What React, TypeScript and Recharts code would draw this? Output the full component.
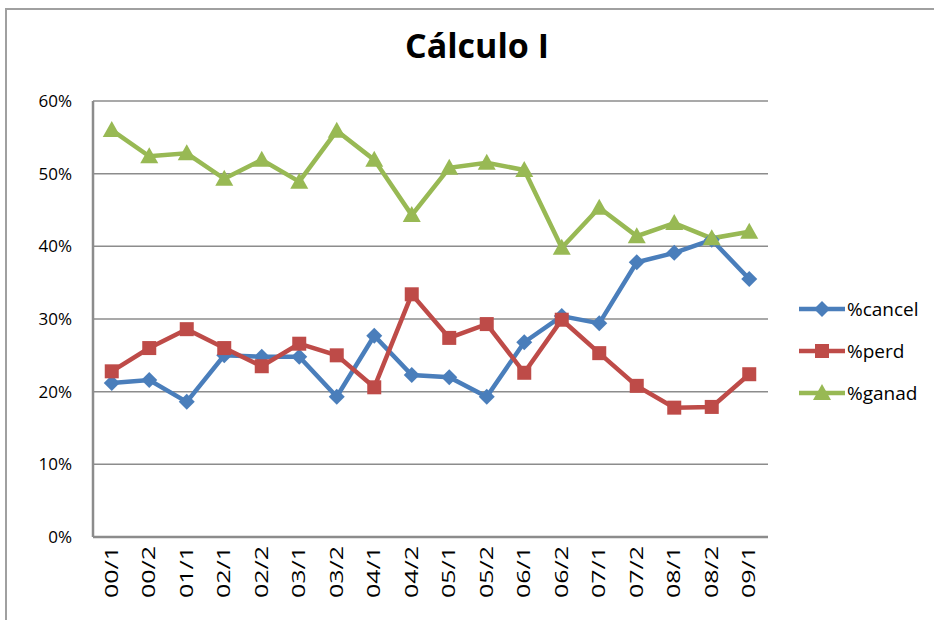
import React from "react";
import { LineChart, Line, XAxis, YAxis, CartesianGrid } from "recharts";

const periods = [
  "00/1", "00/2", "01/1", "02/1", "02/2", "03/1", "03/2", "04/1", "04/2",
  "05/1", "05/2", "06/1", "06/2", "07/1", "07/2", "08/1", "08/2", "09/1",
];
const cancel = [
  21.2, 21.6, 18.6, 25.0, 24.8, 24.8, 19.3, 27.7, 22.3,
  22.0, 19.3, 26.8, 30.4, 29.4, 37.8, 39.1, 40.9, 35.5,
];
const perd = [
  22.8, 26.0, 28.6, 26.0, 23.5, 26.6, 25.0, 20.6, 33.4,
  27.4, 29.3, 22.6, 29.9, 25.3, 20.8, 17.8, 17.9, 22.4,
];
const ganad = [
  56.0, 52.4, 52.8, 49.3, 51.9, 48.9, 55.9, 51.9, 44.3,
  50.8, 51.5, 50.5, 39.8, 45.3, 41.4, 43.2, 41.1, 42.0,
];
const yTicks = [0, 10, 20, 30, 40, 50, 60];

const data = periods.map((p, i) => ({
  p,
  cancel: cancel[i],
  perd: perd[i],
  ganad: ganad[i],
}));

const BLUE = "#4A7EBB";
const RED = "#BE4B48";
const GREEN = "#98B954";
const GRID = "#8c8c8c";
const FONT = "'Open Sans', sans-serif";

type Shape = "diamond" | "square" | "triangle";

function marker(shape: Shape, x: number, y: number, fill: string, key?: string | number) {
  if (shape === "diamond")
    return <polygon key={key} points={`${x},${y - 8} ${x + 8},${y} ${x},${y + 8} ${x - 8},${y}`} fill={fill} />;
  if (shape === "square")
    return <rect key={key} x={x - 7} y={y - 7} width={14} height={14} fill={fill} />;
  return <polygon key={key} points={`${x},${y - 9} ${x + 9},${y + 7} ${x - 9},${y + 7}`} fill={fill} />;
}

const dot = (shape: Shape, fill: string) => (props: any) => {
  const { cx, cy, index } = props;
  if (cx == null || cy == null) return <g key={index} />;
  return marker(shape, cx, cy, fill, index);
};

const XTick = (props: any) => {
  const { x, y, payload } = props;
  return (
    <text
      transform={`translate(${x + 6},${y}) rotate(-90)`}
      textAnchor="end"
      fontFamily={FONT}
      fontSize={18}
      fill="#000"
      textLength={52}
      lengthAdjust="spacingAndGlyphs"
    >
      {payload.value}
    </text>
  );
};

const series: { key: string; label: string; color: string; shape: Shape }[] = [
  { key: "cancel", label: "%cancel", color: BLUE, shape: "diamond" },
  { key: "perd", label: "%perd", color: RED, shape: "square" },
  { key: "ganad", label: "%ganad", color: GREEN, shape: "triangle" },
];

const LegendBox = () => (
  <div style={{ fontFamily: FONT, fontSize: 19, color: "#000" }}>
    {series.map((s) => (
      <div key={s.key} style={{ display: "flex", alignItems: "center", height: 42 }}>
        <svg width={48} height={20}>
          <line x1={1} y1={10} x2={47} y2={10} stroke={s.color} strokeWidth={4.5} />
          {marker(s.shape, 24, 10, s.color)}
        </svg>
        <span style={{ marginLeft: 1 }}>{s.label}</span>
      </div>
    ))}
  </div>
);

export default function App() {
  return (
    <div
      style={{
        position: "fixed",
        left: 0,
        top: 0,
        width: 934,
        height: 620,
        overflow: "hidden",
        background: "#fff",
      }}
    >
      <div
        style={{
          position: "absolute",
          left: 5,
          top: 8,
          width: 960,
          height: 660,
          border: "2px solid #a0a0a0",
        }}
      />
      <div
        style={{
          position: "absolute",
          left: 0,
          width: 954,
          top: 22,
          textAlign: "center",
          fontFamily: FONT,
          fontWeight: 700,
          fontSize: 34,
          color: "#000",
        }}
      >
        Cálculo I
      </div>
      <div style={{ position: "absolute", left: 0, top: 0 }}>
        <LineChart
          width={934}
          height={620}
          data={data}
          margin={{ top: 101, right: 166, bottom: 0, left: 0 }}
        >
          <CartesianGrid vertical={false} stroke={GRID} strokeWidth={1.5} />
          <XAxis
            dataKey="p"
            interval={0}
            height={83}
            padding={{ left: 18.75, right: 18.75 }}
            axisLine={{ stroke: GRID, strokeWidth: 2.5 }}
            tickLine={false}
            tickSize={0}
            tickMargin={9}
            tick={<XTick />}
          />
          <YAxis
            width={93}
            domain={[0, 60]}
            ticks={yTicks}
            interval={0}
            tickFormatter={(v: number) => `${v}%`}
            axisLine={{ stroke: GRID, strokeWidth: 2.5 }}
            tickLine={false}
            tickSize={0}
            tickMargin={21}
            tick={{ fontFamily: FONT, fontSize: 17, fill: "#000" }}
          />
          {series.map((s) => (
            <Line
              key={s.key}
              dataKey={s.key}
              name={s.label}
              stroke={s.color}
              strokeWidth={4.5}
              dot={dot(s.shape, s.color)}
              activeDot={false}
              isAnimationActive={false}
            />
          ))}
        </LineChart>
      </div>
      <div style={{ position: "absolute", left: 798, top: 288 }}>
        <LegendBox />
      </div>
    </div>
  );
}
